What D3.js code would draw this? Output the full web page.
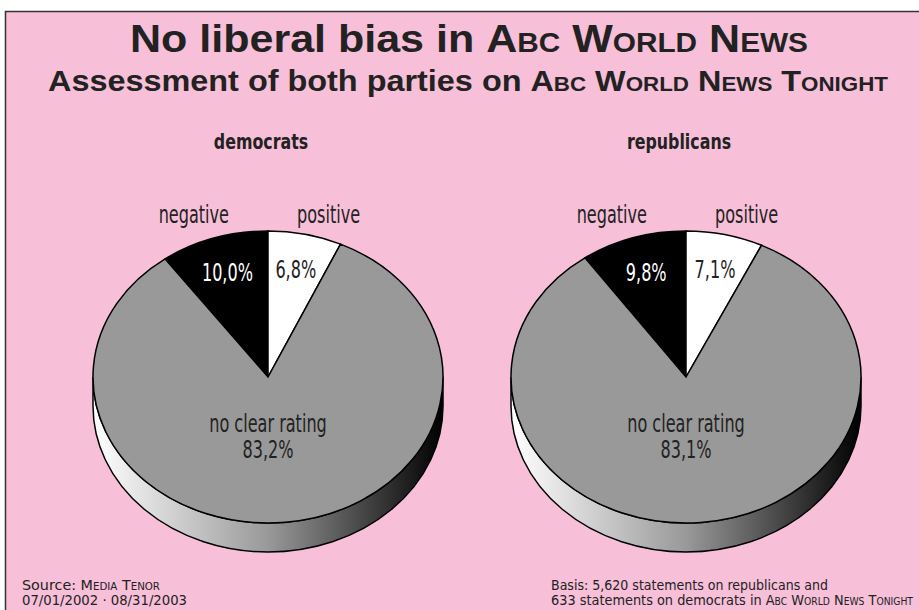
<!DOCTYPE html>
<html>
<head>
<meta charset="utf-8">
<script src="https://cdn.jsdelivr.net/npm/d3@7"></script>
<style>
  body { margin: 0; background: #fff; }
  svg { display: block; }
  .cond { font-family: "DejaVu Sans", sans-serif; }
  .sc { font-variant: small-caps; }
</style>
</head>
<body>
<script>
// data
var parties = ["democrats", "republicans"];
var categories = ["negative", "positive", "no clear rating"];
var democrats = [10.0, 6.8, 83.2];
var republicans = [9.8, 7.1, 83.1];
var sliceColors = ["#000000", "#ffffff", "#999999"];
var labelColors = ["#ffffff", "#222222", "#222222"];

var W = 919, H = 610;
var svg = d3.select("body").append("svg").attr("width", W).attr("height", H);

// background panel
svg.append("rect").attr("x", 5.5).attr("y", 11.5).attr("width", W).attr("height", H)
   .attr("fill", "#f7bfd8").attr("stroke", "#333").attr("stroke-width", 1.5);

var defs = svg.append("defs");
var grad = defs.append("linearGradient").attr("id", "side").attr("x1", "0%").attr("x2", "100%");
grad.append("stop").attr("offset", "0%").attr("stop-color", "#ffffff");
grad.append("stop").attr("offset", "50%").attr("stop-color", "#999999");
grad.append("stop").attr("offset", "100%").attr("stop-color", "#000000");

// squeeze a text horizontally (no condensed font installed)
function condense(sel, factor) {
  sel.each(function() {
    var len = this.getComputedTextLength();
    d3.select(this).attr("textLength", len * factor).attr("lengthAdjust", "spacingAndGlyphs");
  });
  return sel;
}
function fitTo(sel, width) {
  return sel.attr("textLength", width).attr("lengthAdjust", "spacingAndGlyphs");
}
// plain text followed by a small-caps brand name
function withBrand(sel, plain, brand) {
  sel.append("tspan").text(plain);
  sel.append("tspan").attr("class", "sc").text(brand);
  return sel;
}

// titles
var t1 = svg.append("text").attr("x", 469).attr("y", 52).attr("text-anchor", "middle")
   .attr("font-family", "Liberation Sans, Arial, sans-serif").attr("font-weight", "bold")
   .attr("font-size", 39).attr("fill", "#222");
fitTo(withBrand(t1, "No liberal bias in ", "Abc World News"), 678);

var t2 = svg.append("text").attr("x", 468).attr("y", 91).attr("text-anchor", "middle")
   .attr("font-family", "Liberation Sans, Arial, sans-serif").attr("font-weight", "bold")
   .attr("font-size", 29).attr("fill", "#222");
fitTo(withBrand(t2, "Assessment of both parties on ", "Abc World News Tonight"), 840);

// pies
var rx = 175, ry = 146, depth = 29, cy = 377;
var x = d3.scalePoint().domain(parties).range([268, 686]);
var arc = d3.arc().innerRadius(0).outerRadius(rx);
var labelArc = d3.arc().innerRadius(rx * 0.75).outerRadius(rx * 0.75);
var pct = function(v) { return d3.format(".1f")(v).replace(".", ",") + "%"; };
var squeeze = 0.67;

[democrats, republicans].forEach(function(values, pi) {
  var cx = x(parties[pi]);
  var total = d3.sum(values);
  var start = -values[0] / total * 2 * Math.PI;
  var arcs = d3.pie().sort(null).startAngle(start).endAngle(start + 2 * Math.PI)(values);

  var g = svg.append("g").attr("transform", "translate(" + cx + "," + cy + ")");

  // side of the disc
  g.append("path")
    .attr("d", "M" + rx + ",0 A" + rx + "," + ry + " 0 0 1 " + (-rx) + ",0 L" + (-rx) + "," + depth +
               " A" + rx + "," + ry + " 0 0 0 " + rx + "," + depth + " Z")
    .attr("fill", "url(#side)").attr("stroke", "#000").attr("stroke-width", 1.5);

  // top face
  g.append("g").attr("transform", "scale(1," + (ry / rx) + ")")
    .selectAll("path").data(arcs).enter().append("path")
    .attr("d", arc)
    .attr("fill", function(d, i) { return sliceColors[i]; })
    .attr("stroke", "#000").attr("stroke-width", 1.5)
    .attr("vector-effect", "non-scaling-stroke");

  // percent labels in the small slices
  var p = g.selectAll("text.pct").data(arcs.slice(0, 2)).enter().append("text")
    .attr("class", "cond pct")
    .attr("x", function(d) { return labelArc.centroid(d)[0]; })
    .attr("y", function(d) { return labelArc.centroid(d)[1] * ry / rx + 8; })
    .attr("text-anchor", "middle").attr("font-size", 24)
    .attr("fill", function(d, i) { return labelColors[i]; })
    .text(function(d) { return pct(d.data); });
  condense(p, squeeze);

  // big slice label
  condense(g.append("text").attr("class", "cond").attr("text-anchor", "middle")
    .attr("x", 0).attr("y", 55).attr("font-size", 24).attr("fill", "#222")
    .text(categories[2]), squeeze);
  condense(g.append("text").attr("class", "cond").attr("text-anchor", "middle")
    .attr("x", 0).attr("y", 81).attr("font-size", 24).attr("fill", "#222")
    .text(pct(values[2])), squeeze);

  // category labels above
  condense(g.append("text").attr("class", "cond").attr("x", -39).attr("y", -154)
    .attr("text-anchor", "end").attr("font-size", 24).attr("fill", "#222").text(categories[0]), squeeze);
  condense(g.append("text").attr("class", "cond").attr("x", 29).attr("y", -154)
    .attr("text-anchor", "start").attr("font-size", 24).attr("fill", "#222").text(categories[1]), squeeze);

  // party header
  condense(g.append("text").attr("class", "cond").attr("x", -7).attr("y", -228)
    .attr("text-anchor", "middle").attr("font-size", 22).attr("font-weight", "bold")
    .attr("fill", "#222").text(parties[pi]), 0.72);
});

// footer
function footer(x0, y0) {
  return svg.append("text").attr("class", "cond").attr("x", x0).attr("y", y0)
    .attr("font-size", 14).attr("fill", "#222");
}
fitTo(withBrand(footer(22, 590), "Source: ", "Media Tenor"), 138);
fitTo(footer(22, 605).text("07/01/2002 · 08/31/2003"), 165);
fitTo(footer(551, 590).text("Basis: 5,620 statements on republicans and"), 277);
fitTo(withBrand(footer(551, 605), "633 statements on democrats in ", "Abc World News Tonight"), 362);
</script>
</body>
</html>
